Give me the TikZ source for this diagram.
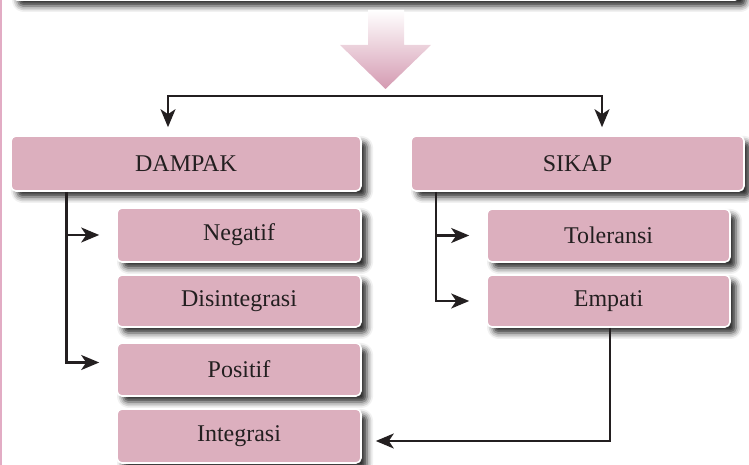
\documentclass[tikz,border=0pt]{standalone}
\usepackage{fontspec}
\setmainfont{Liberation Serif}
\usetikzlibrary{arrows.meta,positioning,calc,shadows.blur}
\definecolor{boxpink}{RGB}{220,175,190}
\definecolor{arrowpink}{RGB}{212,154,177}
\definecolor{edgepink}{RGB}{226,172,196}
\definecolor{inkdark}{RGB}{35,31,32}

\begin{document}
\begin{tikzpicture}[x=1pt,y=1pt,>={Stealth[length=18pt,width=15pt,inset=5pt]},
  box/.style={draw=white,line width=1.6pt,fill=boxpink,rounded corners=5pt,
    text=inkdark,font=\fontsize{24}{28}\selectfont,
    blur shadow={shadow xshift=6pt,shadow yshift=-6pt,shadow blur radius=6pt,shadow opacity=85}},
  conn/.style={draw=inkdark,line width=2.2pt}]
\useasboundingbox (0,0) rectangle (749,465);
\draw[edgepink,line width=2pt] (1,0)--(1,465);
% box above, only its lower edge shows
\node[box,minimum width=728pt,minimum height=60pt] (topbox) at (376,495) {};
\shade[top color=white,bottom color=arrowpink] (368,455)--(404,455)--(404,420)--(431,420)--(385.5,376)--(340,420)--(368,420)--cycle;
% main boxes
\node[box,minimum width=350pt,minimum height=55pt] (dampak) at (186,301.5) {DAMPAK};
\node[box,minimum width=333pt,minimum height=55pt] (sikap) at (577.5,301.5) {SIKAP};
\node[box,minimum width=244pt,minimum height=54pt] (negatif) at (239,230) {Negatif};
\node[box,minimum width=244pt,minimum height=52pt] (disintegrasi) at (239,164) {Disintegrasi};
\node[box,minimum width=244pt,minimum height=53pt] (positif) at (239,95.5) {Positif};
\node[box,minimum width=244pt,minimum height=54pt] (integrasi) at (239,29) {Integrasi};
\node[box,minimum width=243pt,minimum height=53pt] (toleransi) at (608.5,229.5) {Toleransi};
\node[box,minimum width=243pt,minimum height=52pt] (empati) at (608.5,164) {Empati};
% connectors
\coordinate (fork) at (385.5,369);
\draw[conn,<->] ([shift={(-18,8)}]dampak.north) |- (fork) -| ([shift={(24.5,8)}]sikap.north);
\coordinate (dtrunk) at ([xshift=-119.5pt]dampak.south);
\draw[conn,->] (dtrunk) |- ([shift={(-17,7)}]positif.west);
\draw[conn,->] (dtrunk |- negatif.west) -- ([xshift=-17pt]negatif.west);
\coordinate (strunk) at ([xshift=-141.5pt]sikap.south);
\draw[conn,->] (strunk) |- ([xshift=-17pt]empati.west);
\draw[conn,->] (strunk |- toleransi.west) -- ([xshift=-17pt]toleransi.west);
\draw[conn,->] ([xshift=1.5pt]empati.south) |- ([shift={(14,-5)}]integrasi.east);
\end{tikzpicture}
\end{document}
